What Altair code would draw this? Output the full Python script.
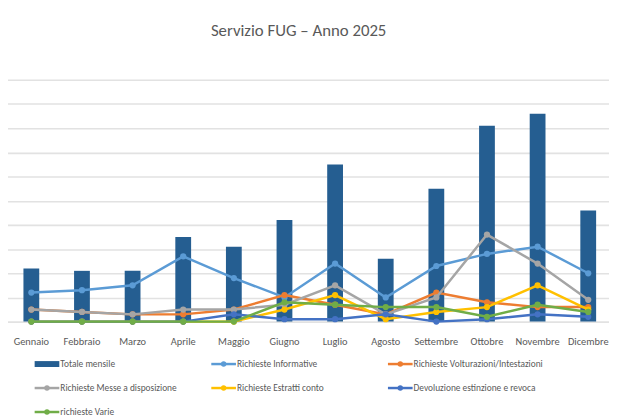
import altair as alt
import pandas as pd

months = ["Gennaio", "Febbraio", "Marzo", "Aprile", "Maggio", "Giugno",
          "Luglio", "Agosto", "Settembre", "Ottobre", "Novembre", "Dicembre"]
totale = [22, 21, 21, 35, 31, 42, 65, 26, 55, 81, 86, 46]
informative = [12, 13, 15, 27, 18, 10, 24, 10, 23, 28, 31, 20]
volturazioni = [5, 4, 3, 3, 5, 11, 7, 3, 12, 8, 6, 6]
messe = [5, 4, 3, 5, 5, 7, 15, 3, 10, 36, 24, 9]
estratti = [0, 0, 0, 0, 0, 5, 11, 1, 4, 6, 15, 5]
devoluzione = [0, 0, 0, 0, 3, 1, 1, 3, 0, 1, 3, 2]
varie = [0, 0, 0, 0, 0, 8, 7, 6, 6, 2, 7, 4]
grid_values = [0, 10, 20, 30, 40, 50, 60, 70, 80, 90, 100]

bar_name = "Totale mensile"
line_names = ["Richieste Informative", "Richieste Volturazioni/Intestazioni",
              "Richieste Messe a disposizione", "Richieste Estratti conto",
              "Devoluzione estinzione e revoca", "richieste Varie"]
line_values = [informative, volturazioni, messe, estratti, devoluzione, varie]
bar_color = "#255E91"
line_colors = ["#5B9BD5", "#ED7D31", "#A5A5A5", "#FFC000", "#4472C4", "#70AD47"]

FONT = "Carlito, Liberation Sans Narrow, Liberation Sans, Arial"
TXT = "#595959"

x_enc = alt.X("month:N", sort=months, title=None,
              scale=alt.Scale(range=[-2, 613.6], paddingInner=0, paddingOuter=0),
              axis=alt.Axis(labelFont=FONT, labelFontSize=10.5, labelColor=TXT,
                            labelAngle=0, ticks=False, tickSize=0, domain=False,
                            labelPadding=15, grid=False))
y_scale = alt.Scale(domain=[0, 100], nice=False)
y_axis = alt.Axis(values=grid_values, labels=False, ticks=False, domain=False,
                  grid=True, gridColor="#e2e2e2", gridWidth=1.6)


def y_enc():
    return alt.Y("value:Q", scale=y_scale, title=None, axis=y_axis)


bar_df = pd.DataFrame({"month": months, "value": totale})
bars = alt.Chart(bar_df).mark_bar(size=16, color=bar_color).encode(x=x_enc, y=y_enc())

layers = [bars]
for name, vals, col in zip(line_names, line_values, line_colors):
    df = pd.DataFrame({"month": months, "value": vals, "serie": name})
    layers.append(
        alt.Chart(df).mark_line(
            color=col, strokeWidth=2.5,
            point=alt.OverlayMarkDef(filled=True, size=40, color=col)
        ).encode(x=x_enc, y=y_enc())
    )

# legend built from the series names
all_names = [bar_name] + line_names
all_colors = [bar_color] + line_colors
leg_rows = []
for i, (n, c) in enumerate(zip(all_names, all_colors)):
    colx = i % 3
    rowy = i // 3
    lx = 27 + colx * 179
    ly = 288 + rowy * 24.3
    leg_rows.append({"name": n, "lx": lx, "lx2": lx + 25, "lxm": lx + 12.5,
                     "tx": lx + 26, "ly": ly, "ly1": ly - 3, "ly2": ly + 3,
                     "kind": "bar" if i == 0 else "line"})
leg_df = pd.DataFrame(leg_rows)
cscale = alt.Color("name:N", scale=alt.Scale(domain=all_names, range=all_colors), legend=None)

leg_base = alt.Chart(leg_df)
leg_rect = leg_base.transform_filter(alt.datum.kind == "bar").mark_rect().encode(
    x=alt.X("lx:Q", scale=None), x2="lx2:Q",
    y=alt.Y("ly1:Q", scale=None), y2="ly2:Q", color=cscale)
leg_rule = leg_base.transform_filter(alt.datum.kind == "line").mark_rule(strokeWidth=2.5).encode(
    x=alt.X("lx:Q", scale=None), x2="lx2:Q",
    y=alt.Y("ly:Q", scale=None), color=cscale)
leg_dot = leg_base.transform_filter(alt.datum.kind == "line").mark_circle(size=30, opacity=1).encode(
    x=alt.X("lxm:Q", scale=None), y=alt.Y("ly:Q", scale=None), color=cscale)
leg_text = leg_base.mark_text(align="left", baseline="middle", font=FONT,
                              fontSize=9.5, color=TXT).encode(
    x=alt.X("tx:Q", scale=None), y=alt.Y("ly:Q", scale=None), text="name:N")

layers += [leg_rect, leg_rule, leg_dot, leg_text]

chart = alt.layer(*layers).resolve_scale(color="independent").properties(
    width=609, height=245,
    title=alt.TitleParams("Servizio FUG – Anno 2025", font=FONT, fontSize=17,
                          fontWeight="normal", color=TXT, anchor="middle",
                          dx=-10, offset=40),
    autosize=alt.AutoSizeParams(type="none"),
    padding={"left": 0, "top": 70, "right": 0, "bottom": 104},
).configure_view(stroke=None)

chart.save("out.html", embed_options={"renderer": "svg", "actions": False})
